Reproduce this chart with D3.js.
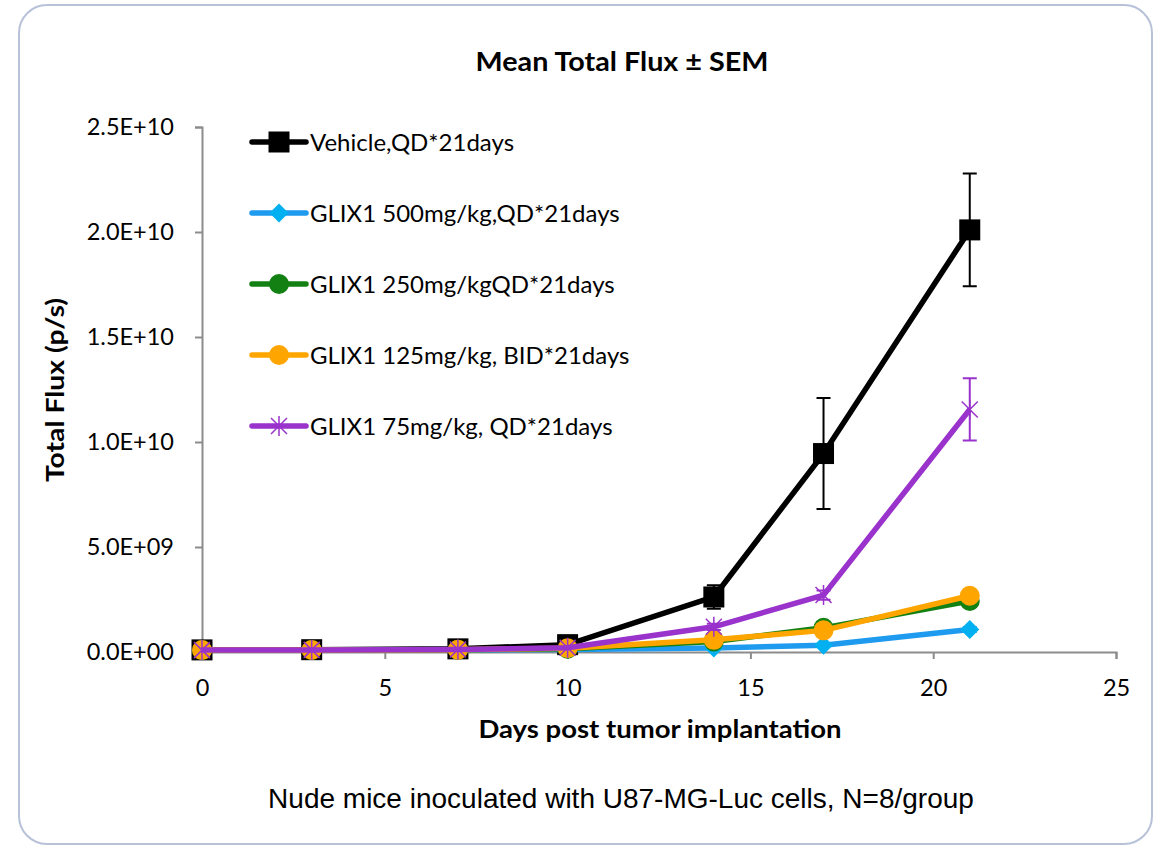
<!DOCTYPE html>
<html>
<head>
<meta charset="utf-8">
<script src="https://cdn.jsdelivr.net/npm/d3@7"></script>
<style>
  body { margin: 0; background: #fff; }
  text { font-family: Lato, "Open Sans", sans-serif; fill: #000; }
</style>
</head>
<body>
<div id="chart"></div>
<script>
// days of measurement
const days = [0, 3, 7, 10, 14, 17, 21];

const seriesNames = [
  "Vehicle,QD*21days",
  "GLIX1 500mg/kg,QD*21days",
  "GLIX1 250mg/kgQD*21days",
  "GLIX1 125mg/kg, BID*21days",
  "GLIX1 75mg/kg, QD*21days"
];
const seriesColors = ["#000000", "#1e9bef", "#128012", "#ffa500", "#9933cc"];
const seriesMarkers = ["square", "diamond", "circle", "circle", "star"];

// mean total flux (p/s)
const vehicleMean = [1.0e8, 1.1e8, 1.5e8, 3.5e8, 2.62e9, 9.45e9, 2.01e10];
const glix500Mean = [0.9e8, 0.9e8, 1.0e8, 1.2e8, 0.19e9, 0.32e9, 1.07e9];
const glix250Mean = [0.9e8, 1.0e8, 1.1e8, 1.6e8, 0.50e9, 1.15e9, 2.43e9];
const glix125Mean = [0.9e8, 1.0e8, 1.1e8, 1.8e8, 0.58e9, 1.03e9, 2.68e9];
const glix75Mean  = [0.9e8, 1.0e8, 1.2e8, 2.0e8, 1.20e9, 2.71e9, 1.155e10];

// SEM
const vehicleSem = [0.1e8, 0.1e8, 0.2e8, 0.5e8, 0.56e9, 2.64e9, 2.68e9];
const glix500Sem = [0.1e8, 0.1e8, 0.1e8, 0.2e8, 0.05e9, 0.06e9, 0.12e9];
const glix250Sem = [0.1e8, 0.1e8, 0.1e8, 0.3e8, 0.08e9, 0.12e9, 0.20e9];
const glix125Sem = [0.1e8, 0.1e8, 0.1e8, 0.3e8, 0.08e9, 0.12e9, 0.25e9];
const glix75Sem  = [0.1e8, 0.1e8, 0.1e8, 0.4e8, 0.15e9, 0.22e9, 1.48e9];

const yTicks = [0, 5e9, 1e10, 1.5e10, 2e10, 2.5e10];
const yTickLabels = ["0.0E+00", "5.0E+09", "1.0E+10", "1.5E+10", "2.0E+10", "2.5E+10"];
const xTicks = [0, 5, 10, 15, 20, 25];

const means = [vehicleMean, glix500Mean, glix250Mean, glix125Mean, glix75Mean];
const sems = [vehicleSem, glix500Sem, glix250Sem, glix125Sem, glix75Sem];

const W = 1157, H = 848;
const margin = {left: 202, right: 41, top: 127, bottom: 196};

const svg = d3.select("#chart").append("svg")
  .attr("width", W).attr("height", H);

// rounded frame
svg.append("rect")
  .attr("x", 19).attr("y", 5)
  .attr("width", 1133).attr("height", 839)
  .attr("rx", 28).attr("ry", 28)
  .attr("fill", "#fff")
  .attr("stroke", "#b7c2d9")
  .attr("stroke-width", 2);

const x = d3.scaleLinear().domain([0, 25]).range([margin.left, W - margin.right]);
const y = d3.scaleLinear().domain([0, 2.5e10]).range([H - margin.bottom, margin.top]);

// axes
const xAxis = svg.append("g")
  .attr("transform", `translate(0,${y(0)})`)
  .call(d3.axisBottom(x).tickValues(xTicks).tickSize(7).tickPadding(20).tickFormat(d3.format("d")));
const yAxis = svg.append("g")
  .attr("transform", `translate(${x(0)},0)`)
  .call(d3.axisLeft(y).tickValues(yTicks).tickSize(7).tickPadding(21)
    .tickFormat((d, i) => yTickLabels[i]));

[xAxis, yAxis].forEach(a => {
  a.select(".domain").attr("stroke", "#8c8c8c").attr("stroke-width", 2);
  a.selectAll(".tick line").attr("stroke", "#8c8c8c").attr("stroke-width", 2);
  a.selectAll(".tick text").style("font-size", "23.5px").style("font-family", "Lato, sans-serif");
});

// titles
svg.append("text")
  .attr("x", 622).attr("y", 71)
  .attr("text-anchor", "middle")
  .attr("textLength", 293).attr("lengthAdjust", "spacingAndGlyphs")
  .style("font-size", "26px").style("font-weight", "bold")
  .text("Mean Total Flux \u00b1 SEM");

svg.append("text")
  .attr("x", 660).attr("y", 738)
  .attr("text-anchor", "middle")
  .attr("textLength", 363).attr("lengthAdjust", "spacingAndGlyphs")
  .style("font-size", "24px").style("font-weight", "bold")
  .text("Days post tumor implantation");

svg.append("text")
  .attr("transform", "translate(64,390) rotate(-90)")
  .attr("text-anchor", "middle")
  .attr("textLength", 184).attr("lengthAdjust", "spacingAndGlyphs")
  .style("font-size", "24px").style("font-weight", "bold")
  .text("Total Flux (p/s)");

svg.append("text")
  .attr("x", 621).attr("y", 808)
  .attr("text-anchor", "middle")
  .style("font-size", "28px").style("font-family", "'Liberation Sans', Arial, sans-serif")
  .text("Nude mice inoculated with U87-MG-Luc cells, N=8/group");

// marker drawing
function drawMarker(g, type, color, cx, cy) {
  if (type === "square") {
    g.append("rect").attr("x", cx - 10.5).attr("y", cy - 10.5).attr("width", 21).attr("height", 21)
      .attr("fill", color);
  } else if (type === "diamond") {
    g.append("path").attr("d", `M${cx},${cy - 9.5}L${cx + 9.5},${cy}L${cx},${cy + 9.5}L${cx - 9.5},${cy}Z`)
      .attr("fill", "#00b0f0");
  } else if (type === "circle") {
    g.append("circle").attr("cx", cx).attr("cy", cy).attr("r", 10).attr("fill", color);
  } else if (type === "star") {
    const r = 10;
    const d = [[0, -r, 0, r], [-r * 0.8, -r * 0.8, r * 0.8, r * 0.8], [-r * 0.8, r * 0.8, r * 0.8, -r * 0.8]]
      .map(s => `M${cx + s[0]},${cy + s[1]}L${cx + s[2]},${cy + s[3]}`).join("");
    g.append("path").attr("d", d).attr("stroke", color).attr("stroke-width", 1.5).attr("fill", "none");
  }
}

const line = d3.line().x((d, i) => x(days[i])).y(d => y(d));

means.forEach((vals, s) => {
  const g = svg.append("g");
  // error bars
  vals.forEach((v, i) => {
    const e = sems[s][i];
    const cx = x(days[i]);
    const top = y(v + e), bot = y(v - e);
    if (bot - top < 4) return;
    g.append("path")
      .attr("d", `M${cx},${top}L${cx},${bot}M${cx - 7},${top}L${cx + 7},${top}M${cx - 7},${bot}L${cx + 7},${bot}`)
      .attr("stroke", seriesColors[s]).attr("stroke-width", 2).attr("fill", "none");
  });
  g.append("path")
    .datum(vals)
    .attr("d", line)
    .attr("fill", "none")
    .attr("stroke", seriesColors[s])
    .attr("stroke-width", 5.5)
    .attr("stroke-linejoin", "round");
  vals.forEach((v, i) => drawMarker(g, seriesMarkers[s], seriesColors[s], x(days[i]), y(v)));
});

// legend
const legendX0 = 252, legendX1 = 306, legendY0 = 142, legendStep = 71;
seriesNames.forEach((name, s) => {
  const ly = legendY0 + s * legendStep;
  const g = svg.append("g");
  g.append("line").attr("x1", legendX0).attr("x2", legendX1).attr("y1", ly).attr("y2", ly)
    .attr("stroke", seriesColors[s]).attr("stroke-width", 5.5).attr("stroke-linecap", "round");
  drawMarker(g, seriesMarkers[s], seriesColors[s], (legendX0 + legendX1) / 2, ly);
  g.append("text").attr("x", legendX1 + 4).attr("y", ly + 9)
    .style("font-size", "24px")
    .text(name);
});
</script>
</body>
</html>
